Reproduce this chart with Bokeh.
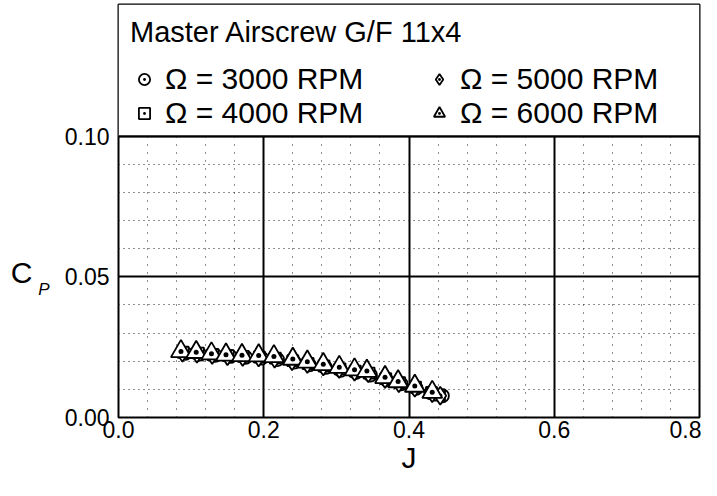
from bokeh.plotting import figure
from bokeh.models import (Range1d, FixedTicker, PrintfTickFormatter, Legend, LegendItem,
                          BoxAnnotation, Span, LinearAxis)
from bokeh.embed import file_html
from bokeh.resources import INLINE

# ---------------- data ----------------
TITLE = "Master Airscrew G/F 11x4"
LABELS = ["\u03a9 = 3000 RPM", "\u03a9 = 4000 RPM", "\u03a9 = 5000 RPM", "\u03a9 = 6000 RPM"]

J_3000 = [0.092, 0.112, 0.133, 0.154, 0.175, 0.197, 0.219, 0.242, 0.263, 0.285,
          0.306, 0.327, 0.347, 0.369, 0.389, 0.410, 0.430, 0.446]
CP_3000 = [0.0228, 0.0225, 0.0221, 0.0217, 0.0214, 0.0211, 0.0206, 0.0197, 0.0187, 0.0178,
           0.0168, 0.0160, 0.0151, 0.0134, 0.0120, 0.0104, 0.0088, 0.0077]

J_4000 = [0.089, 0.110, 0.130, 0.151, 0.172, 0.194, 0.216, 0.240, 0.261, 0.283,
          0.305, 0.326, 0.345, 0.368, 0.387, 0.409, 0.431, 0.442]
CP_4000 = [0.0232, 0.0229, 0.0224, 0.0220, 0.0217, 0.0215, 0.0211, 0.0202, 0.0192, 0.0183,
           0.0173, 0.0165, 0.0158, 0.0138, 0.0124, 0.0108, 0.0089, 0.0080]

J_5000 = [0.088, 0.108, 0.129, 0.150, 0.171, 0.193, 0.215, 0.239, 0.260, 0.282,
          0.304, 0.325, 0.344, 0.367, 0.386, 0.408, 0.432, 0.443]
CP_5000 = [0.0230, 0.0227, 0.0222, 0.0218, 0.0215, 0.0213, 0.0209, 0.0200, 0.0190, 0.0181,
           0.0172, 0.0163, 0.0157, 0.0137, 0.0122, 0.0106, 0.0086, 0.0077]

J_6000 = [0.086, 0.107, 0.128, 0.148, 0.170, 0.193, 0.214, 0.240, 0.260, 0.282,
          0.304, 0.325, 0.342, 0.367, 0.385, 0.408, 0.432]
CP_6000 = [0.0235, 0.0232, 0.0227, 0.0223, 0.0221, 0.0220, 0.0217, 0.0208, 0.0198, 0.0189,
           0.0179, 0.0170, 0.0165, 0.0143, 0.0128, 0.0112, 0.0090]

X_TICKS = [0.0, 0.2, 0.4, 0.6, 0.8]
X_MINOR = [0.04, 0.08, 0.12, 0.16, 0.24, 0.28, 0.32, 0.36, 0.44, 0.48, 0.52, 0.56,
           0.64, 0.68, 0.72, 0.76]
Y_TICKS = [0.0, 0.05, 0.10]
Y_MINOR = [0.01, 0.02, 0.03, 0.04, 0.06, 0.07, 0.08, 0.09]
Y_TOP = 0.1468          # extra headroom above 0.10 holds the legend panel
C_AT, P_AT = 0.0517, 0.0455   # vertical anchors of the "C" and subscript "P" of the y title

FONT = "Liberation Sans"

# ---------------- figure ----------------
p = figure(width=701, height=480, output_backend="svg", toolbar_location=None,
           x_range=Range1d(0, 0.8), y_range=Range1d(0, Y_TOP),
           min_border_left=118, min_border_right=2, min_border_top=4, min_border_bottom=63)
p.outline_line_color = "black"
p.outline_line_width = 2
p.outline_line_alpha = 1
p.background_fill_color = "white"
p.border_fill_color = "white"

xt = FixedTicker(ticks=X_TICKS, minor_ticks=X_MINOR)
yt = FixedTicker(ticks=Y_TICKS, minor_ticks=Y_MINOR)
p.xaxis.ticker = xt
p.yaxis.ticker = yt
p.xgrid.ticker = xt
p.ygrid.ticker = yt

for g, dash in ((p.xgrid, "1 7"), (p.ygrid, "1 4")):
    g.grid_line_color = "black"
    g.grid_line_width = 2
    g.grid_line_alpha = 1
    g.minor_grid_line_color = "#222222"
    g.minor_grid_line_width = 1
    g.minor_grid_line_dash = dash

for ax in (p.xaxis, p.yaxis):
    ax.axis_line_color = None
    ax.major_tick_line_color = None
    ax.minor_tick_line_color = None
    ax.major_tick_out = 0
    ax.minor_tick_out = 0
    ax.major_label_text_font = FONT
    ax.major_label_text_font_size = "23px"
    ax.major_label_text_color = "black"
p.xaxis.formatter = PrintfTickFormatter(format="%.1f")
p.yaxis.formatter = PrintfTickFormatter(format="%.2f")
p.xaxis.major_label_standoff = 3
p.yaxis.major_label_standoff = 9

p.xaxis.axis_label = "J"
p.xaxis.axis_label_text_font = FONT
p.xaxis.axis_label_text_font_size = "30px"
p.xaxis.axis_label_text_font_style = "normal"
p.xaxis.axis_label_text_color = "black"
p.xaxis.axis_label_standoff = 0


def title_axis(pos, text, size, style, standoff):
    return LinearAxis(ticker=FixedTicker(ticks=[pos]), major_label_overrides={pos: text},
                      major_label_text_font=FONT, major_label_text_font_size=size,
                      major_label_text_font_style=style, major_label_text_color="black",
                      major_label_standoff=standoff, axis_line_color=None,
                      major_tick_line_color=None, minor_tick_line_color=None,
                      major_tick_out=0, minor_tick_out=0, major_tick_in=0, minor_tick_in=0)


p.add_layout(title_axis(P_AT, "P", "17px", "italic", 12), "left")
p.add_layout(title_axis(C_AT, "C", "30px", "normal", 3), "left")

# blank the legend panel above 0.10
p.add_layout(BoxAnnotation(bottom=Y_TICKS[-1], fill_color="white", fill_alpha=1,
                           line_color=None, level="underlay"))
p.add_layout(Span(location=Y_TICKS[-1], dimension="width", line_color="black",
                  line_width=2, level="underlay"))

marker_style = dict(fill_color="white", line_color="black", line_width=1.8)
MARKERS = [("circle_dot", 13), ("square_dot", 11), ("diamond_dot", 18), ("triangle_dot", 20)]
SERIES = [(J_3000, CP_3000), (J_4000, CP_4000), (J_5000, CP_5000), (J_6000, CP_6000)]
renderers = [p.scatter(jx, cy, marker=m, size=s, **marker_style)
             for (m, s), (jx, cy) in zip(MARKERS, SERIES)]

legend = Legend(
    items=[LegendItem(label=LABELS[i], renderers=[r]) for i, r in enumerate(renderers)],
    location="top_left", title=TITLE, orientation="vertical", nrows=2,
    title_text_font=FONT, title_text_font_size="29px", title_text_font_style="normal",
    title_text_color="black", title_standoff=13,
    label_text_font=FONT, label_text_font_size="30px", label_text_color="black",
    glyph_width=28, glyph_height=28, label_standoff=7, label_width=260,
    spacing=0, padding=10, margin=12,
    border_line_color=None, background_fill_alpha=0,
)
p.add_layout(legend)

open("out.html", "w").write(file_html(p, INLINE))
